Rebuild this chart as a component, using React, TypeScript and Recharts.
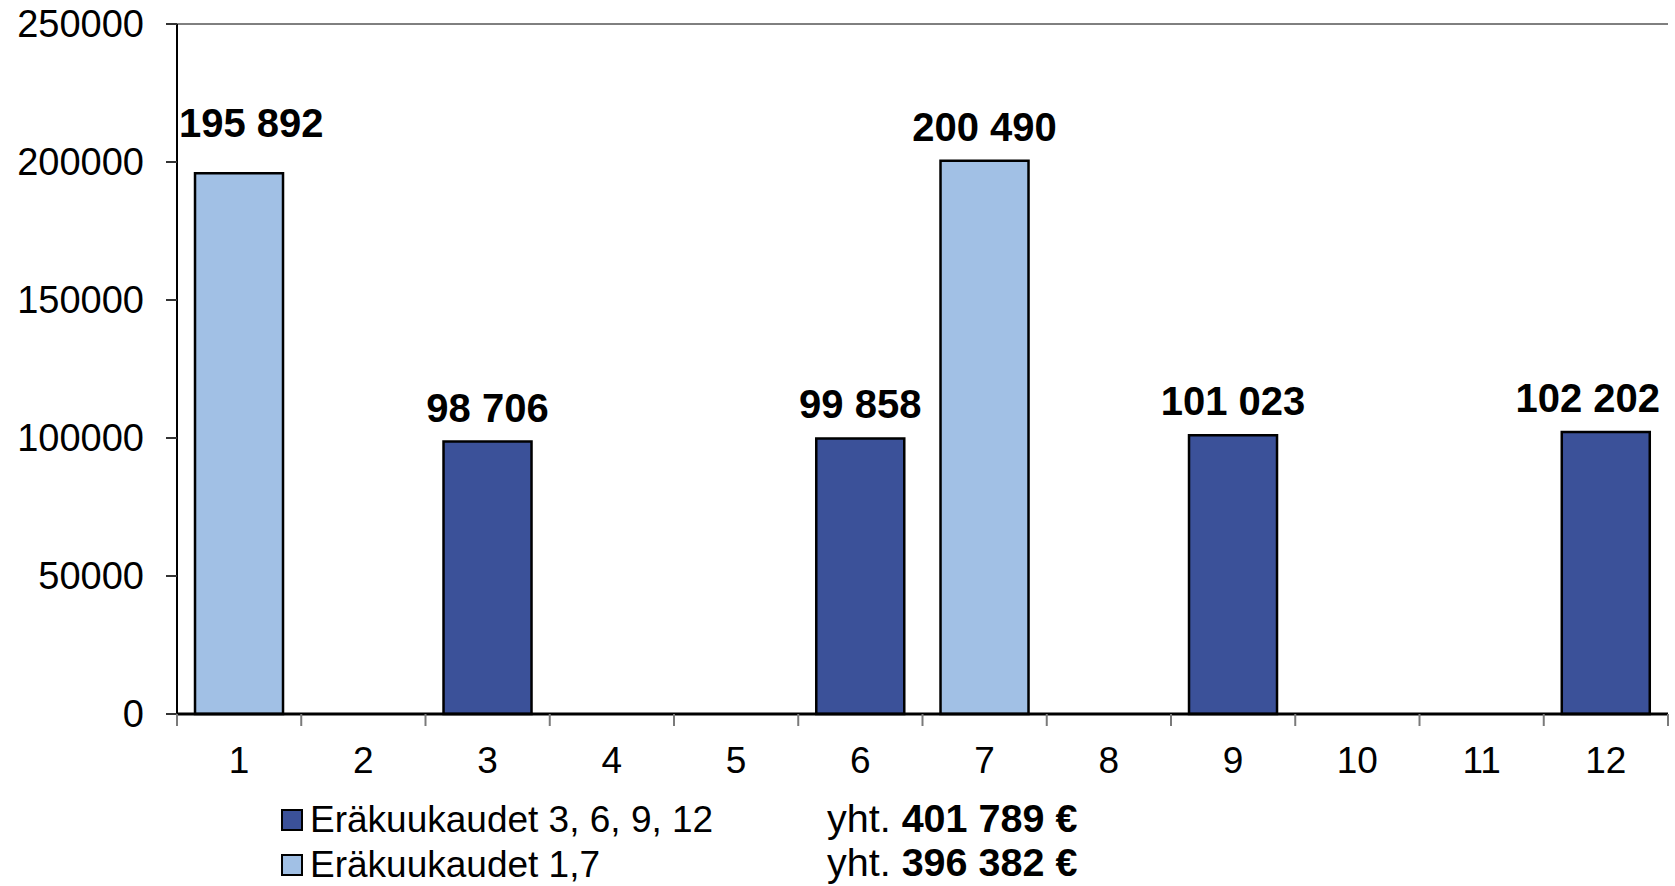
import { BarChart, Bar, XAxis, YAxis, CartesianGrid, LabelList } from 'recharts';

const months = ['1', '2', '3', '4', '5', '6', '7', '8', '9', '10', '11', '12'];
const quarterly = [null, null, 98706, null, null, 99858, null, null, 101023, null, null, 102202];
const halfYear = [195892, null, null, null, null, null, 200490, null, null, null, null, null];
const yTicks = [0, 50000, 100000, 150000, 200000, 250000];
const seriesNames = ['Eräkuukaudet 3, 6, 9, 12', 'Eräkuukaudet 1,7'];

const DARK = '#3b5199';
const LIGHT = '#a1c0e5';
const FONT = '"Liberation Sans", Arial, sans-serif';
const W = 1675;
const H = 886;
const PLOT_LEFT = 177;

const data = months.map((m, i) => ({ month: m, quarterly: quarterly[i], halfYear: halfYear[i] }));

const fmt = (v: number) => String(v).replace(/\B(?=(\d{3})+(?!\d))/g, ' ');
const sum = (arr: (number | null)[]) => arr.reduce<number>((a, b) => a + (b ?? 0), 0);
const totals = [sum(quarterly), sum(halfYear)];

const MonthTick = (props: any) => {
    const { x, y, payload, index, visibleTicksCount } = props;
    const half = payload?.offset ?? 62;
    return (
        <g>
            <line x1={x - half} y1={y - 12} x2={x - half} y2={y} stroke="#7a7a7a" strokeWidth={2} />
            {index === visibleTicksCount - 1 && (
                <line x1={x + half} y1={y - 12} x2={x + half} y2={y} stroke="#7a7a7a" strokeWidth={2} />
            )}
            <text x={x} y={y + 47} textAnchor="middle" fontSize={37} fontFamily={FONT} fill="#000">
                {payload.value}
            </text>
        </g>
    );
};

// keeps the label inside the plot box, the way the original nudges the edge labels
const ValueLabel = (props: any) => {
    const { x, y, width, value } = props;
    if (value == null || value === 0) return null;
    const text = fmt(value);
    const approx = text.length * 0.556 * 40 - 0.278 * 40 * (text.split(' ').length - 1);
    let cx = x + width / 2;
    const nudged = cx - approx / 2 < PLOT_LEFT;
    cx = Math.max(cx, PLOT_LEFT + 2 + approx / 2);
    cx = Math.min(cx, W - 15 - approx / 2);
    return (
        <text x={cx} y={y - (nudged ? 36 : 20)} textAnchor="middle" fontSize={40} fontWeight="bold" fontFamily={FONT} fill="#000">
            {text}
        </text>
    );
};

export default function App() {
    return (
        <div style={{ position: 'absolute', left: 0, top: 0, width: W, height: H, background: '#fff', fontFamily: FONT, overflow: 'hidden' }}>
            <BarChart
                width={W}
                height={H}
                data={data}
                margin={{ top: 24, right: 7, bottom: 72, left: 0 }}
                barCategoryGap="14.5%"
            >
                <CartesianGrid vertical={false} stroke="#000" strokeWidth={1} />
                <XAxis
                    dataKey="month"
                    axisLine={{ stroke: '#000', strokeWidth: 3 }}
                    tickLine={false}
                    tick={<MonthTick />}
                    tickSize={12}
                    tickMargin={0}
                    interval={0}
                    height={100}
                />
                <YAxis
                    yAxisId="left"
                    domain={[0, 250000]}
                    ticks={yTicks}
                    width={PLOT_LEFT}
                    axisLine={{ stroke: '#000', strokeWidth: 2 }}
                    tickLine={{ stroke: '#333', strokeWidth: 2 }}
                    tickSize={11}
                    tickMargin={22}
                    tick={{ fontSize: 38, fill: '#000', fontFamily: FONT }}
                />
                <YAxis
                    yAxisId="right"
                    orientation="right"
                    domain={[0, 250000]}
                    width={0}
                    tick={false}
                    tickLine={false}
                    axisLine={{ stroke: '#000', strokeWidth: 2 }}
                />
                <Bar yAxisId="left" dataKey="quarterly" stackId="m" fill={DARK} stroke="#000" strokeWidth={2.5} isAnimationActive={false}>
                    <LabelList dataKey="quarterly" content={<ValueLabel />} />
                </Bar>
                <Bar yAxisId="left" dataKey="halfYear" stackId="m" fill={LIGHT} stroke="#000" strokeWidth={2.5} isAnimationActive={false}>
                    <LabelList dataKey="halfYear" content={<ValueLabel />} />
                </Bar>
            </BarChart>
            {seriesNames.map((name, i) => (
                <div key={name} style={{ position: 'absolute', left: 281, top: 798 + i * 45, height: 44, display: 'flex', alignItems: 'center', fontSize: 37, color: '#000', whiteSpace: 'nowrap' }}>
                    <span style={{ display: 'inline-block', width: 18, height: 18, background: i === 0 ? DARK : LIGHT, border: '2px solid #000', marginRight: 7 }} />
                    {name}
                </div>
            ))}
            {totals.map((t, i) => (
                <div key={i} style={{ position: 'absolute', left: 827, top: 796 + i * 44, height: 44, display: 'flex', alignItems: 'center', fontSize: 39.5, color: '#000', whiteSpace: 'nowrap' }}>
                    yht.&nbsp;<b>{fmt(t)} €</b>
                </div>
            ))}
        </div>
    );
}
